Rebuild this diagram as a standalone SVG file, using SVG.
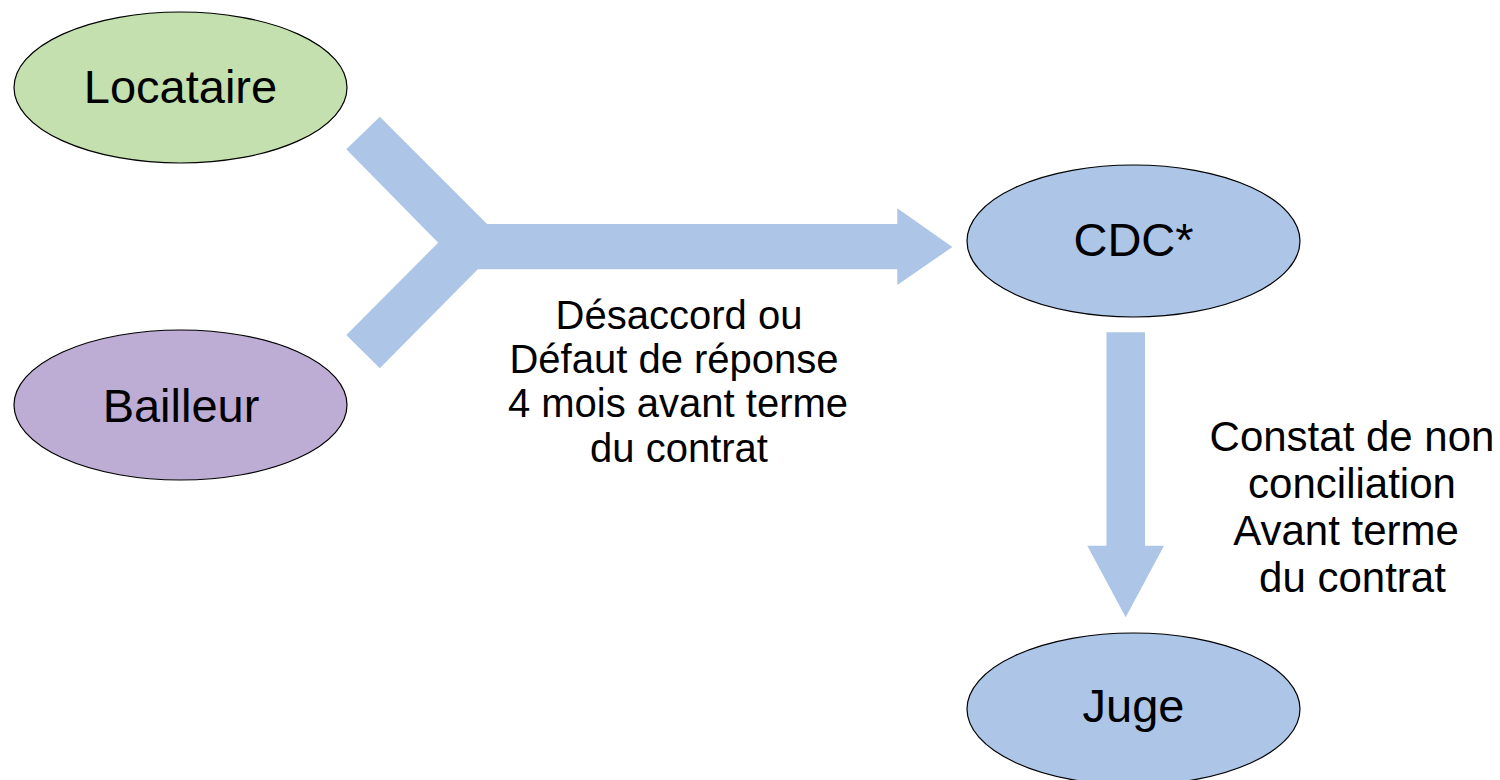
<svg xmlns="http://www.w3.org/2000/svg" width="1500" height="780" viewBox="0 0 1500 780">
<style>
  .node { stroke: #000000; stroke-width: 1.2; }
  .lbl { font-family: "Liberation Sans", Arial, sans-serif; fill: #000000; text-anchor: middle; }
  .big { font-size: 47px; }
  .mid { font-size: 40px; }
  .side { font-size: 42px; }
  .flow { fill: #adc5e7; stroke: none; }
</style>
<rect width="1500" height="780" fill="#ffffff"/>
<g id="connectors">
  <polygon class="flow" points="379.8,116.7 487.1,224 897.3,224 897.3,208.3 952.4,247 897.3,285 897.3,269.3 477.8,269.3 379.8,368.3 346.3,335 438.2,242.7 346.3,149.3"/>
  <polygon class="flow" points="1106.5,332.3 1145,332.3 1145,545.7 1164,545.7 1125.7,617.3 1087.3,545.7 1106.5,545.7"/>
</g>
<g id="label-desaccord">
  <text class="lbl mid" x="679" y="329.3">Désaccord ou</text>
  <text class="lbl mid" x="674" y="373.3">Défaut de réponse</text>
  <text class="lbl mid" x="678" y="417.3">4 mois avant terme</text>
  <text class="lbl mid" x="679" y="461.7">du contrat</text>
</g>
<g id="label-constat">
  <text class="lbl side" x="1352" y="450.7">Constat de non</text>
  <text class="lbl side" x="1352" y="498.3">conciliation</text>
  <text class="lbl side" x="1346" y="545">Avant terme</text>
  <text class="lbl side" x="1352.5" y="591.7">du contrat</text>
</g>
<g id="node-locataire">
  <ellipse class="node" cx="180.5" cy="87.5" rx="166.5" ry="75.5" fill="#c3e0ae"/>
  <text class="lbl big" x="180.5" y="103.3">Locataire</text>
</g>
<g id="node-bailleur">
  <ellipse class="node" cx="180.5" cy="405" rx="166.5" ry="75" fill="#bdadd4"/>
  <text class="lbl big" x="181" y="421.7">Bailleur</text>
</g>
<g id="node-cdc">
  <ellipse class="node" cx="1133.5" cy="241" rx="166.5" ry="76" fill="#adc5e7"/>
  <text class="lbl big" x="1133.5" y="255.5">CDC*</text>
</g>
<g id="node-juge">
  <ellipse class="node" cx="1133.5" cy="709" rx="166.5" ry="76" fill="#adc5e7"/>
  <text class="lbl big" x="1133.5" y="721.7">Juge</text>
</g>
</svg>
